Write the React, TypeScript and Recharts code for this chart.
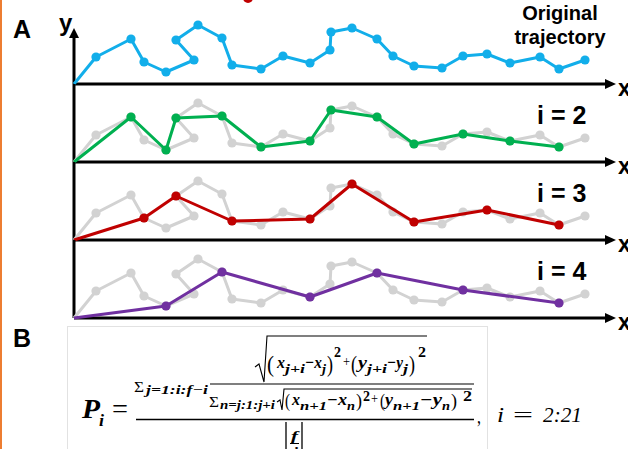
import { ScatterChart, Scatter, XAxis, YAxis, ReferenceLine } from "recharts"

// original trajectory (one unit = 10 px, origin at the axes corner)
const trackX = [0, 2.2, 5.7, 7.0, 9.2, 12.0, 10.2, 12.4, 14.8, 15.8, 18.7, 20.9, 23.6, 25.6, 25.7, 27.8, 30.3, 31.9, 34.0, 36.8, 38.9, 41.3, 43.6, 46.6, 48.5, 51.1]
const trackY = [0, 2.7, 4.5, 2.2, 1.2, 2.4, 4.4, 5.9, 4.6, 1.9, 1.5, 2.8, 2.1, 3.4, 5.2, 5.6, 4.5, 2.8, 1.8, 1.6, 2.8, 3.0, 2.1, 2.7, 1.5, 2.4]

const steps = [2, 3, 4]
const stepColors = ["#00b050", "#c00000", "#7030a0"]
const baselines = [84, 162, 240, 318]

const blue = "#12aeea"
const gray = "#d2d2d2"

const original = trackX.map((x, k) => ({ x, y: trackY[k] }))
const everyNth = (i: number) => original.filter((_, k) => k % i === 0)

const dot = (color: string) => (props: any) => {
  const p = props.payload || {}
  if (p.x === 0 && p.y === 0) return <g />
  return <circle cx={props.cx} cy={props.cy} r={4.6} fill={color} />
}

function Panel({ top, yTop, color, data, withGray }: any) {
  return (
    <div style={{ position: "absolute", left: 0, top }}>
      <ScatterChart width={628} height={100} margin={{ top: 0, right: 20, bottom: 0, left: 74 }}>
        <XAxis type="number" dataKey="x" domain={[0, 53.4]} hide />
        <YAxis type="number" dataKey="y" domain={[-1, 9]} hide />
        <ReferenceLine y={0} stroke="#000" strokeWidth={3} />
        <ReferenceLine segment={[{ x: 0, y: 0 }, { x: 0, y: yTop }]} stroke="#000" strokeWidth={3} />
        {withGray && (
          <Scatter
            data={original}
            fill={gray}
            line={{ stroke: gray, strokeWidth: 3, strokeLinejoin: "round" }}
            shape={dot(gray)}
            isAnimationActive={false}
          />
        )}
        <Scatter
          data={data}
          fill={color}
          line={{ stroke: color, strokeWidth: 3, strokeLinejoin: "round" }}
          shape={dot(color)}
          isAnimationActive={false}
        />
      </ScatterChart>
    </div>
  )
}

// pieces of the formula in box B: [x, y, size, text, width, bold, italic]
const formula: [number, number, number, string, number, boolean, boolean][] = [
  [82, 418, 27, "P", 18, true, true],
  [99, 426, 16, "i", 5, true, true],
  [112, 418, 27, "=", 16, false, false],
  [134, 392, 15, "Σ", 10, false, false],
  [146, 394, 12.5, "j=1:i:f−i", 62, true, true],
  // inner numerator
  [267, 372, 24, "(", 7, false, false],
  [277, 368, 17, "x", 8, true, true],
  [285, 373, 12, "j+i", 20, true, true],
  [305, 368, 17, "−x", 17, true, true],
  [322, 373, 12, "j", 4, true, true],
  [327, 372, 24, ")", 6, false, false],
  [334, 357, 14, "2", 7, true, false],
  [343, 366, 14, "+", 7, false, false],
  [351, 372, 24, "(", 6, false, false],
  [358, 368, 17, "y", 9, true, true],
  [367, 373, 12, "j+i", 20, true, true],
  [387, 368, 17, "−y", 16, true, true],
  [403, 373, 12, "j", 5, true, true],
  [409, 372, 24, ")", 6, false, false],
  [418, 357, 14, "2", 8, true, false],
  // inner denominator
  [209, 407, 15, "Σ", 10, false, false],
  [220, 409, 12.5, "n=j:1:j+i", 55, true, true],
  [285, 407, 18, "(", 5, false, false],
  [292, 405, 16, "x", 8, true, true],
  [300, 410, 12, "n+1", 27, true, true],
  [327, 405, 16, "−x", 20, true, true],
  [347, 410, 12, "n", 8, true, true],
  [356, 407, 18, ")", 6, false, false],
  [363, 401, 14, "2", 7, true, false],
  [371, 403, 14, "+", 7, false, false],
  [380, 407, 18, "(", 5, false, false],
  [385, 405, 16, "y", 8, true, true],
  [393, 410, 12, "n+1", 27, true, true],
  [420, 405, 16, "−y", 22, true, true],
  [442, 410, 12, "n", 8, true, true],
  [451, 407, 18, ")", 6, false, false],
  [463, 401, 14, "2", 9, true, false],
  // denominator f/i
  [291, 440, 13, "f", 7, true, true],
  [293, 456, 13, "i", 5, true, true],
  [477, 423, 20, ",", 4, false, false],
  [497, 422, 21, "i", 7, false, true],
  [513, 422, 21, "=", 20, false, false],
  [543, 422, 21, "2:21", 39, false, true],
]

export default function App() {
  return (
    <div
      style={{
        position: "absolute",
        left: 0,
        top: 0,
        width: 628,
        height: 449,
        overflow: "hidden",
        background: "#fff",
      }}
    >
      <Panel top={baselines[0] - 90} yTop={4.7} color={blue} data={original} withGray={false} />
      {steps.map((i, k) => (
        <Panel
          key={i}
          top={baselines[k + 1] - 90}
          yTop={7.8}
          color={stepColors[k]}
          data={everyNth(i)}
          withGray
        />
      ))}
      <svg
        width={628}
        height={449}
        style={{ position: "absolute", left: 0, top: 0 }}
        fontFamily="'Liberation Sans', Arial, sans-serif"
      >
        <rect x={0} y={0} width={2} height={449} fill="#ed7d31" />
        <circle cx={248} cy={-2} r={5} fill="#c00000" />
        <polygon points="74,28 69,38 79,38" fill="#000" />
        {baselines.map((b) => (
          <g key={b}>
            <polygon points={`616,${b} 605,${b - 5} 605,${b + 5}`} fill="#000" />
            <text x={618} y={b + 12} fontSize={23} fontWeight="bold">x</text>
          </g>
        ))}
        <text x={59} y={31} fontSize={24} fontWeight="bold">y</text>
        <text x={13} y={38} fontSize={25} fontWeight="bold">A</text>
        <text x={13} y={347} fontSize={25} fontWeight="bold">B</text>
        <text x={560} y={20} fontSize={20} fontWeight="bold" textAnchor="middle">Original</text>
        <text x={560} y={44} fontSize={20} fontWeight="bold" textAnchor="middle">trajectory</text>
        {steps.map((i, k) => (
          <text key={i} x={537} y={baselines[k + 1] - 38} fontSize={25} fontWeight="bold">
            {`i = ${i}`}
          </text>
        ))}

        <rect x={67.5} y={326.5} width={420} height={140} fill="#fff" stroke="#e2e2e2" />
        <g fontFamily="'Liberation Serif', 'Times New Roman', serif" fill="#000">
          {formula.map(([x, y, s, t, w, b, it], k) => (
            <text
              key={k}
              x={x}
              y={y}
              fontSize={s}
              fontWeight={b ? "bold" : "normal"}
              fontStyle={it ? "italic" : "normal"}
              textLength={w}
              lengthAdjust="spacingAndGlyphs"
            >
              {t}
            </text>
          ))}
        </g>
        <g stroke="#000" fill="none">
          <line x1={136} x2={474} y1={419.5} y2={419.5} strokeWidth={1.4} />
          <line x1={210} x2={474} y1={384} y2={384} strokeWidth={1.1} />
          <path d="M255,367 L259,364 L264,382 L267,336 L427,336" strokeWidth={1.1} />
          <path d="M277,402 L280,400 L282,410 L284,389 L472,389" strokeWidth={1.1} />
          <line x1={286} x2={286} y1={422} y2={452} strokeWidth={1.3} />
          <line x1={302} x2={302} y1={422} y2={452} strokeWidth={1.3} />
          <line x1={290} x2={299} y1={443.5} y2={443.5} strokeWidth={1} />
        </g>
      </svg>
    </div>
  )
}
